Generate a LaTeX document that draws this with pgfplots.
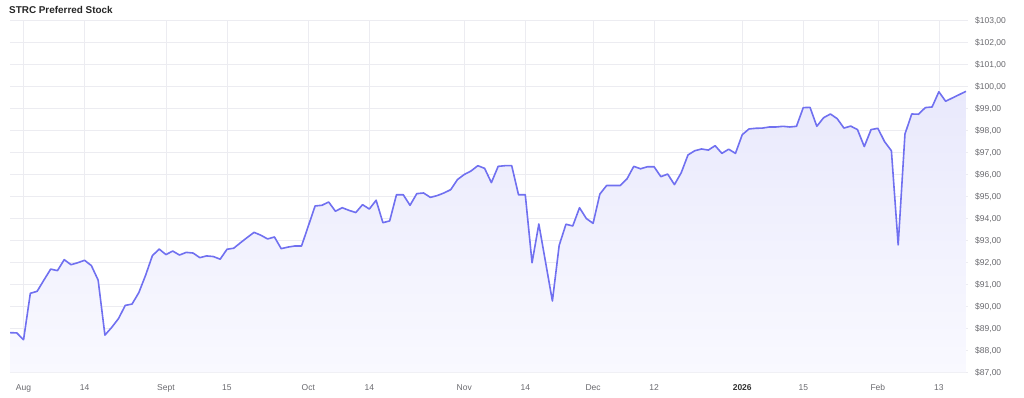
\documentclass[border=0pt]{standalone}
\usepackage{pgfplots}
\usepackage{pgfplotstable}
\pgfplotsset{compat=1.18}
\usepackage{fontspec}
\setmainfont{Liberation Sans}
\definecolor{linec}{RGB}{112,112,240}
\definecolor{filltop}{RGB}{233,233,252}
\definecolor{fillbot}{RGB}{249,249,255}
\definecolor{gridc}{RGB}{236,236,241}
\definecolor{tickc}{RGB}{105,105,110}
\pgfplotstableread{
x y
-2 88.81
-1 88.80
0 88.49
1 90.60
2 90.69
3 91.20
4 91.70
5 91.63
6 92.13
7 91.90
8 91.99
9 92.10
10 91.86
11 91.20
12 88.70
13 89.05
14 89.45
15 90.05
16 90.11
17 90.63
18 91.42
19 92.31
20 92.61
21 92.36
22 92.52
23 92.34
24 92.46
25 92.43
26 92.22
27 92.30
28 92.27
29 92.15
30 92.60
31 92.65
32 92.90
33 93.14
34 93.37
35 93.24
36 93.07
37 93.16
38 92.63
39 92.70
40 92.75
41 92.75
42 93.66
43 94.57
44 94.60
45 94.75
46 94.33
47 94.49
48 94.37
49 94.27
50 94.63
51 94.43
52 94.83
53 93.81
54 93.89
55 95.08
56 95.08
57 94.60
58 95.13
59 95.16
60 94.96
61 95.04
62 95.16
63 95.31
64 95.77
65 96.00
66 96.16
67 96.40
68 96.28
69 95.63
70 96.37
71 96.40
72 96.40
73 95.08
74 95.08
75 91.99
76 93.75
77 92.00
78 90.25
79 92.78
80 93.74
81 93.66
82 94.49
83 94.00
84 93.78
85 95.11
86 95.50
87 95.50
88 95.50
89 95.80
90 96.37
91 96.26
92 96.35
93 96.35
94 95.90
95 96.02
96 95.54
97 96.08
98 96.89
99 97.08
100 97.16
101 97.11
102 97.31
103 96.96
104 97.15
105 96.96
106 97.81
107 98.07
108 98.10
109 98.11
110 98.16
111 98.16
112 98.19
113 98.16
114 98.19
115 99.04
116 99.05
117 98.19
118 98.58
119 98.75
120 98.54
121 98.11
122 98.20
123 98.04
124 97.27
125 98.04
126 98.10
127 97.49
128 97.08
129 92.80
130 97.84
131 98.75
132 98.74
133 99.04
134 99.07
135 99.76
136 99.33
137 99.48
138 99.63
139 99.78
}\stockdata
\begin{document}
\begin{tikzpicture}[x=1pt,y=1pt]
\path[use as bounding box] (0,0) rectangle (1024,398);
\node[anchor=west, font=\bfseries\fontsize{9.9}{12}\selectfont, text=black!85, inner sep=0pt] at (9,388.3) {STRC Preferred Stock};
\begin{axis}[
  at={(10pt,25.5pt)}, anchor=south west,
  width=958pt, height=352pt, scale only axis,
  xmin=-2, xmax=139.3, ymin=87, ymax=103,
  axis line style={draw=none}, tick style={draw=none},
  major tick length=0pt,
  xtick={0,9,21,30,42,51,65,74,84,93,106,115,126,135},
  xticklabels={Aug,14,Sept,15,Oct,14,Nov,14,Dec,12,{\textbf{\textcolor{black!80}{2026}}},15,Feb,13},
  ytick={87,88,...,103},
  yticklabels={{\$87,00},{\$88,00},{\$89,00},{\$90,00},{\$91,00},{\$92,00},{\$93,00},{\$94,00},{\$95,00},{\$96,00},{\$97,00},{\$98,00},{\$99,00},{\$100,00},{\$101,00},{\$102,00},{\$103,00}},
  yticklabel pos=right,
  yticklabel style={anchor=west, inner sep=0pt, xshift=7pt, font=\fontsize{8.5}{10}\selectfont, text=tickc},
  xticklabel style={anchor=north, inner sep=0pt, yshift=-11.5pt, font=\fontsize{8.5}{10}\selectfont, text=tickc},
  grid=major, major grid style={draw=gridc, line width=0.6pt},
  clip=true,
]
\addplot[draw=none, top color=filltop, bottom color=fillbot] table[x=x,y=y]{\stockdata} -- (axis cs:139,87) -- (axis cs:-2,87) -- cycle;
\addplot[linec, line width=1.6pt, line join=round] table[x=x,y=y]{\stockdata};
\end{axis}
\end{tikzpicture}
\end{document}
